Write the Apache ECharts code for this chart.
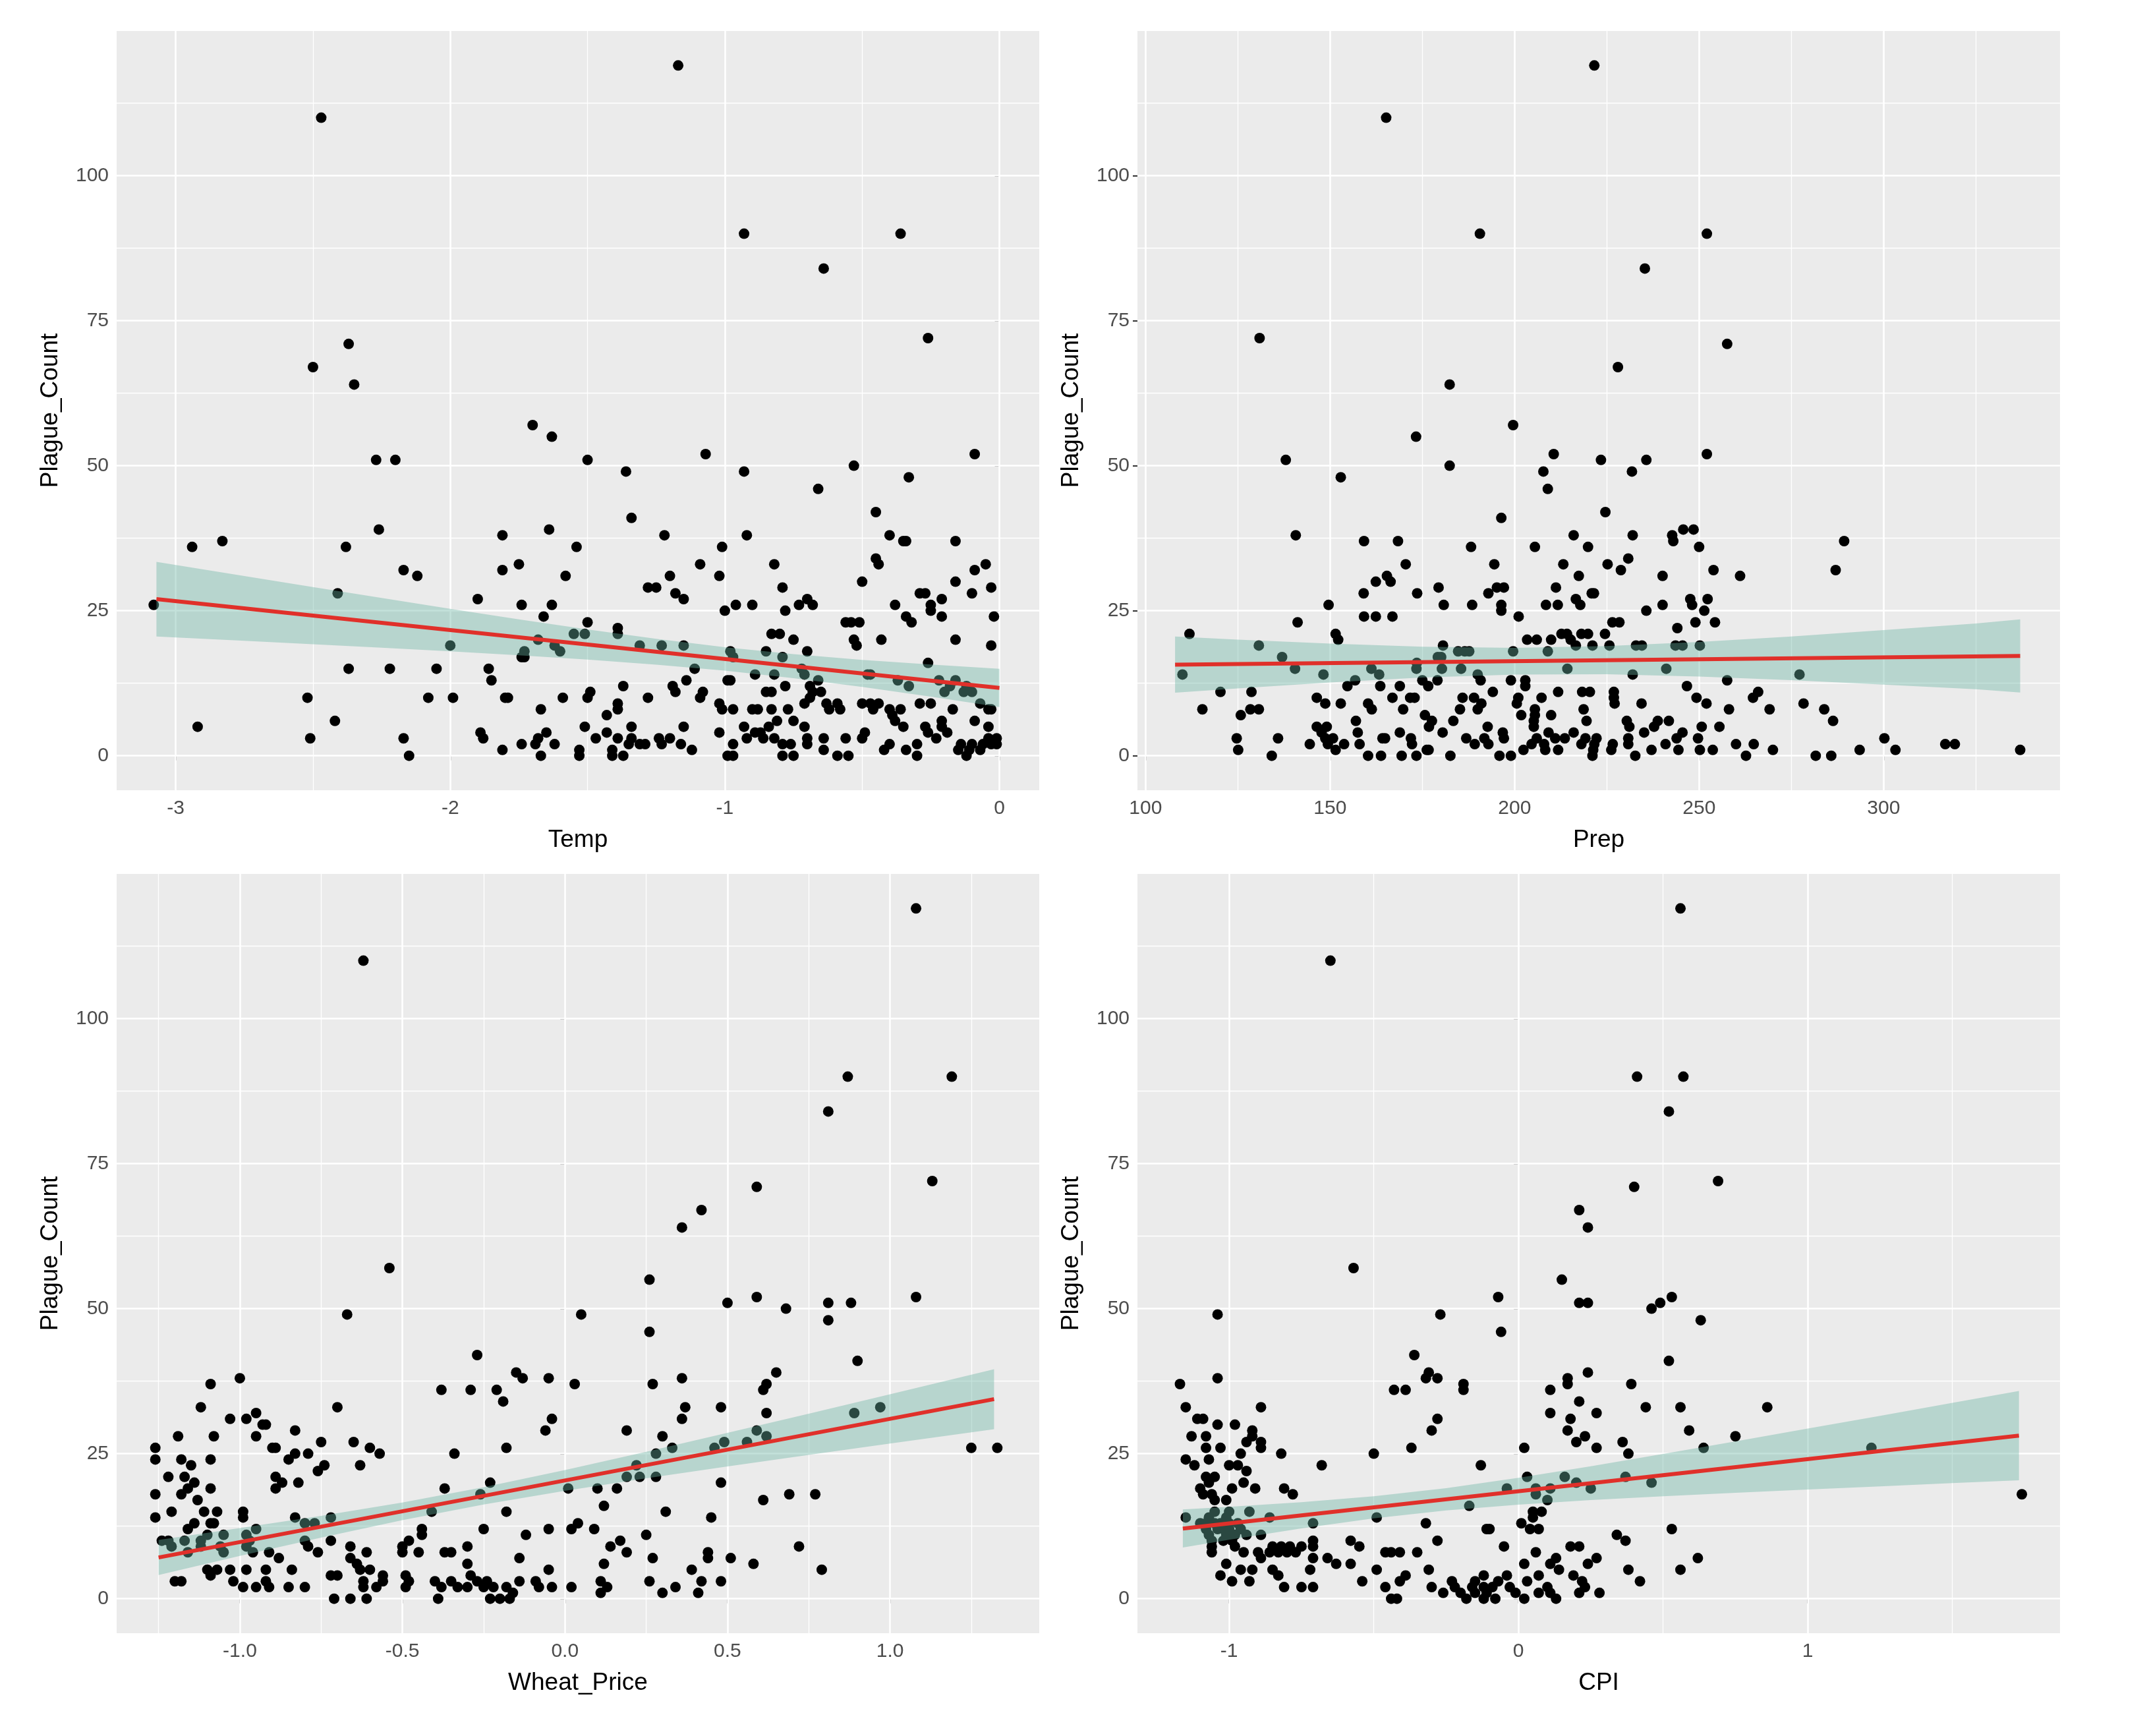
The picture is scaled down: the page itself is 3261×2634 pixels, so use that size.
<!DOCTYPE html>
<html lang="en">
<head>
    <meta charset="UTF-8">
    <title>Plague_Count scatter panels</title>
    <script src="https://cdn.jsdelivr.net/npm/echarts@6/dist/echarts.min.js"></script>
    <style>
        html, body { margin: 0; padding: 0; background: #ffffff; }
        #main { width: 3261px; height: 2634px; }
    </style>
</head>
<body>
<div id="main"></div>
<script type="text/javascript">
    // ---- data ----
    // Temp vs Plague_Count
    var tempPoints = [[-1.17,119],[-2.47,110],[-0.93,90],[-0.36,90],[-0.64,84],[-0.26,72],[-2.37,71],[-2.50,67],[-2.35,64],[-1.70,57],[-1.63,55],[-1.07,52],[-0.09,52],[-2.27,51],[-2.20,51],[-1.50,51],[-0.53,50],[-1.36,49],[-0.93,49],[-0.33,48],[-0.66,46],[-0.45,42],[-1.34,41],[-2.26,39],[-1.81,38],[-1.64,39],[-1.22,38],[-0.92,38],[-0.40,38],[-0.35,37],[-0.34,37],[-0.16,37],[-2.94,36],[-2.83,37],[-2.38,36],[-1.54,36],[-1.01,36],[-0.45,34],[-0.44,33],[-0.05,33],[-0.09,32],[-0.82,33],[-1.09,33],[-2.17,32],[-2.12,31],[-1.81,32],[-1.75,33],[-1.58,31],[-1.20,31],[-1.02,31],[-0.50,30],[-0.79,29],[-1.28,29],[-1.25,29],[-0.03,29],[-0.29,28],[-0.27,28],[-0.21,27],[-0.10,28],[-0.16,30],[-1.18,28],[-1.15,27],[-0.70,27],[-0.68,26],[-0.73,26],[-0.90,26],[-0.96,26],[-1.00,25],[-0.78,25],[-0.38,26],[-0.25,26],[-0.25,25],[-0.21,24],[-0.34,24],[-0.32,23],[-0.02,24],[-3.08,26],[-2.41,28],[-1.90,27],[-1.74,26],[-1.63,26],[-1.66,24],[-1.50,23],[-1.39,22],[-1.39,21],[-1.55,21],[-1.51,21],[-1.68,20],[-1.62,19],[-1.60,18],[-1.73,18],[-1.74,17],[-1.73,17],[-2.00,19],[-1.31,19],[-1.23,19],[-1.15,19],[-0.83,21],[-0.80,21],[-0.75,20],[-0.85,18],[-0.70,18],[-0.79,17],[-0.98,18],[-0.97,17],[-0.51,23],[-0.56,23],[-0.54,23],[-0.53,20],[-0.52,19],[-0.43,20],[-0.16,20],[-0.03,19],[-0.26,16],[-0.48,14],[-0.47,14],[-0.72,15],[-0.71,14],[-0.66,13],[-0.89,14],[-1.11,15],[-0.37,13],[-0.33,12],[-0.22,13],[-0.16,13],[-0.18,12],[-0.12,12],[-0.20,11],[-0.69,12],[-0.68,11],[-0.65,11],[-0.10,11],[-0.13,11],[-0.07,9],[-0.04,8],[-0.03,8],[-2.37,15],[-2.22,15],[-2.05,15],[-1.86,15],[-1.85,13],[-1.14,13],[-1.19,12],[-1.18,11],[-2.52,10],[-2.08,10],[-1.99,10],[-1.80,10],[-1.79,10],[-1.59,10],[-1.37,12],[-1.49,11],[-1.50,10],[-1.28,10],[-1.08,11],[-1.09,10],[-0.99,13],[-0.98,13],[-0.82,14],[-0.78,12],[-0.83,11],[-0.85,11],[-0.69,10],[-0.59,9],[-0.63,9],[-0.58,8],[-0.50,9],[-0.47,9],[-0.46,8],[-0.44,9],[-0.40,8],[-0.36,8],[-0.29,9],[-0.25,9],[-0.17,8],[-1.02,9],[-0.97,8],[-1.01,8],[-0.90,8],[-0.88,8],[-0.83,8],[-0.77,8],[-0.71,9],[-0.62,8],[-0.39,7],[-0.38,6],[-0.35,5],[-0.21,6],[-0.09,6],[-0.04,5],[-0.27,5],[-1.67,8],[-1.43,7],[-1.39,9],[-1.39,8],[-2.92,5],[-2.42,6],[-2.51,3],[-2.17,3],[-2.15,0],[-1.89,4],[-1.88,3],[-1.81,1],[-1.74,2],[-1.69,2],[-1.68,3],[-1.65,4],[-1.67,0],[-1.62,2],[-1.53,1],[-1.53,0],[-1.51,5],[-1.47,3],[-1.43,4],[-1.41,0],[-1.41,1],[-1.39,3],[-1.37,0],[-1.34,5],[-1.34,3],[-1.35,2],[-1.31,2],[-1.29,2],[-1.24,3],[-1.23,2],[-1.20,3],[-1.15,5],[-1.16,2],[-1.12,1],[-1.02,4],[-0.99,0],[-0.97,0],[-0.97,2],[-0.93,5],[-0.92,3],[-0.89,4],[-0.87,4],[-0.86,3],[-0.84,5],[-0.81,6],[-0.82,3],[-0.79,2],[-0.79,0],[-0.76,2],[-0.75,0],[-0.75,6],[-0.71,5],[-0.70,3],[-0.70,2],[-0.64,3],[-0.64,1],[-0.59,0],[-0.55,0],[-0.56,3],[-0.49,4],[-0.50,3],[-0.42,1],[-0.40,2],[-0.34,1],[-0.30,0],[-0.30,2],[-0.26,4],[-0.21,5],[-0.23,3],[-0.19,4],[-0.15,1],[-0.14,2],[-0.12,0],[-0.11,1],[-0.10,2],[-0.07,1],[-0.06,2],[-0.04,3],[-0.01,3],[-0.01,2],[-0.03,2]];
    var tempFitX = [-3.07, 0];
    var tempFitY = [27.0, 11.7];
    var tempBandX = [-3.07, -2.75, -2.5, -2.25, -2, -1.75, -1.5, -1.25, -1, -0.75, -0.5, -0.25, 0];
    var tempBandLo = [20.55, 19.82, 19.22, 18.62, 17.99, 17.32, 16.57, 15.71, 14.66, 13.37, 11.85, 10.18, 8.40];
    var tempBandHi = [33.43, 30.98, 29.08, 27.20, 25.33, 23.52, 21.77, 20.15, 18.70, 17.51, 16.53, 15.72, 15.00];

    // Prep vs Plague_Count
    var prepPoints = [[221.6,119],[165.2,110],[190.6,90],[252.1,90],[235.3,84],[130.9,72],[257.6,71],[228,67],[182.4,64],[199.6,57],[173.3,55],[210.6,52],[252.1,52],[138,51],[223.4,51],[235.7,51],[182.4,50],[207.8,49],[231.8,49],[152.9,48],[209,46],[224.6,42],[196.4,41],[140.7,38],[216,38],[232,38],[242.7,38],[243,37],[159.2,37],[168.4,37],[289.3,37],[188.2,36],[205.5,36],[219.9,36],[245.7,39],[248.5,39],[250,36],[230.8,34],[170.5,33],[194.5,33],[213.2,33],[225.2,33],[253.9,32],[287,32],[228.8,32],[165.4,31],[166.4,30],[162.4,30],[240.1,31],[261.1,31],[217.4,31],[179.4,29],[195.2,29],[197.1,29],[211.2,29],[159.1,28],[173.6,28],[192.9,28],[220.9,28],[221.5,28],[247.6,27],[252.3,27],[216.6,27],[149.6,26],[180.8,26],[188.5,26],[196.4,26],[208.5,26],[211.7,26],[217.8,26],[240.1,26],[248.1,26],[235.7,25],[251.4,25],[159.2,24],[162.4,24],[166.9,24],[196.4,25],[201.1,24],[141.2,23],[226.5,23],[228.4,23],[249,23],[254.3,23],[244.1,22],[224.5,21],[111.9,21],[151.5,21],[152.2,20],[212.7,21],[214.2,21],[218.1,21],[219.9,21],[203.4,20],[206,20],[209.9,20],[215.2,20],[130.7,19],[180.6,19],[216.6,19],[221.1,19],[225.7,19],[232.9,19],[234.5,19],[243.6,19],[245.5,19],[250.2,19],[199.6,18],[209,18],[184.7,18],[186.5,18],[187.7,18],[137,17],[179.2,17],[180.1,17],[140.5,15],[173.4,15],[180.3,15],[185.5,15],[214.3,15],[241.1,15],[161.2,15],[173.5,16],[110,14],[148.2,14],[163.3,14],[190,14],[232,14],[277.2,14],[156.8,13],[175,13],[179.1,13],[190.8,13],[199,13],[202.9,13],[257.6,13],[154.7,12],[163.6,12],[168.9,12],[176.6,12],[202.9,12],[246.7,12],[120.3,11],[128.7,11],[194.1,11],[211.8,11],[218.3,11],[220.4,11],[226.9,11],[266,11],[166.9,10],[171.7,10],[172.9,10],[185.9,10],[189,10],[201,10],[207.3,10],[226.9,10],[249.3,10],[264.6,10],[146.4,10],[160.3,9],[148.7,9],[152.9,9],[191,9],[200.6,9],[227.1,9],[234.4,9],[252,9],[278.3,9],[115.4,8],[128.4,8],[130.7,8],[161.3,8],[169.8,8],[185.2,8],[190,8],[205.5,8],[218.7,8],[258.1,8],[269.1,8],[283.9,8],[125.8,7],[175.7,7],[201.8,7],[205.5,7],[209.9,7],[286.3,6],[157,6],[177.6,6],[183.4,6],[205.2,6],[219.5,6],[230.4,6],[238.8,6],[241.8,6],[146.4,5],[149.1,5],[176.8,5],[192.7,5],[205.2,5],[231.1,5],[237.8,5],[250.7,5],[255.5,5],[147.7,4],[157.5,4],[168.9,4],[180.5,4],[196.8,4],[209.2,4],[216,4],[235.1,4],[245.5,4],[124.7,3],[135.9,3],[148.7,3],[150.8,3],[164.2,3],[164.9,3],[171.9,3],[186.9,3],[191.8,3],[197.1,3],[206,3],[211,3],[213.6,3],[219.2,3],[222.2,3],[230.8,3],[243.9,3],[249.7,3],[300.2,3],[144.5,2],[149.4,2],[153.8,2],[158,2],[172.2,2],[189.2,2],[192.9,2],[204.6,2],[208,2],[218.1,2],[221.6,2],[226.6,2],[230.8,2],[240.9,2],[260,2],[264.8,2],[316.7,2],[319.3,2],[125.1,1],[151.5,1],[176.2,1],[176.7,1],[202.4,1],[208.3,1],[211.8,1],[221.3,1],[226.2,1],[237.1,1],[244.4,1],[250.2,1],[253.7,1],[270,1],[293.5,1],[303.2,1],[337,1],[134.2,0],[160.3,0],[163.8,0],[169.4,0],[173.4,0],[182.6,0],[195.9,0],[199,0],[221.1,0],[232.7,0],[262.7,0],[281.6,0],[285.8,0]];
    var prepFitX = [108, 337];
    var prepFitY = [15.7, 17.2];
    var prepBandX = [108, 125, 150, 175, 200, 225, 250, 275, 300, 325, 337];
    var prepBandLo = [10.86, 11.61, 12.64, 13.49, 14.00, 14.04, 13.65, 13.02, 12.27, 11.45, 10.90];
    var prepBandHi = [20.54, 20.01, 19.32, 18.79, 18.60, 18.90, 19.61, 20.56, 21.65, 22.79, 23.50];

    // Wheat_Price vs Plague_Count
    var wheatPoints = [[1.08,119],[-0.62,110],[0.87,90],[1.19,90],[0.81,84],[1.13,72],[0.59,71],[0.42,67],[0.36,64],[-0.54,57],[0.26,55],[0.59,52],[1.08,52],[0.50,51],[0.81,51],[0.88,51],[0.68,50],[-0.67,49],[0.05,49],[0.81,48],[0.26,46],[-0.27,42],[0.90,41],[-1.00,38],[-0.15,39],[-0.13,38],[-0.05,38],[0.36,38],[0.65,39],[-1.09,37],[-0.38,36],[-0.29,36],[-0.21,36],[0.03,37],[0.27,37],[0.61,36],[0.62,37],[-0.19,34],[-1.12,33],[-0.70,33],[0.37,33],[0.48,33],[0.97,33],[-0.95,32],[0.89,32],[0.62,32],[-1.03,31],[-0.98,31],[-0.04,31],[0.36,31],[-0.93,30],[-0.92,30],[-1.19,28],[-1.08,28],[-0.95,28],[-0.83,29],[-0.06,29],[0.19,29],[0.59,29],[0.62,28],[0.30,28],[-0.65,27],[-0.75,27],[0.33,26],[0.49,27],[0.56,27],[-1.26,26],[-0.90,26],[-0.89,26],[-0.60,26],[-0.18,26],[0.46,26],[1.25,26],[1.33,26],[-0.83,25],[-0.79,25],[-0.57,25],[-0.34,25],[0.28,25],[-1.26,24],[-1.18,24],[-1.09,24],[-0.85,24],[-1.15,23],[-0.74,23],[-0.63,23],[0.22,23],[-0.76,22],[-1.22,21],[-1.17,21],[-0.89,21],[0.19,21],[0.23,21],[0.28,21],[-0.23,20],[0.48,20],[-1.14,20],[-0.87,20],[-0.82,20],[-1.16,19],[-1.09,19],[-0.89,19],[-0.37,19],[0.01,19],[0.10,19],[0.16,19],[-1.18,18],[-0.26,18],[0.69,18],[0.77,18],[-1.26,18],[-1.13,17],[0.61,17],[0.12,16],[-0.41,15],[-0.18,15],[0.31,15],[-1.21,15],[-1.11,15],[-1.07,15],[-0.99,15],[-1.26,14],[-0.99,14],[-0.83,14],[-0.72,14],[0.45,14],[-1.14,13],[-1.09,13],[-1.08,13],[-0.80,13],[-0.77,13],[-0.95,12],[-0.44,12],[-0.25,12],[-0.05,12],[0.02,12],[0.04,13],[0.09,12],[-1.16,12],[-0.44,11],[-0.12,11],[0.25,11],[-1.24,10],[-1.17,10],[-1.05,11],[-0.98,11],[-0.97,10],[-0.80,10],[-0.72,10],[-0.48,10],[0.17,10],[-1.22,10],[-1.12,10],[-1.10,11],[0.14,9],[0.72,9],[-1.21,9],[-1.12,9],[-1.06,9],[-0.98,9],[-0.79,9],[-0.66,9],[-0.50,9],[-0.30,9],[0.19,8],[0.44,8],[-1.16,8],[-1.05,8],[-0.96,8],[-0.91,8],[-0.76,8],[-0.61,8],[-0.50,8],[-0.45,8],[-0.37,8],[-0.35,8],[-0.14,7],[0.27,7],[0.44,7],[0.51,7],[-0.88,7],[-0.66,7],[-0.64,6],[-0.30,6],[0.12,6],[0.58,6],[-1.10,5],[-1.07,5],[-1.03,5],[-0.98,5],[-0.92,5],[-0.84,5],[-0.63,5],[-0.60,5],[-0.49,4],[-0.05,5],[0.39,5],[0.79,5],[-1.20,3],[-1.18,3],[-1.09,4],[-1.02,3],[-0.92,3],[-0.72,4],[-0.56,4],[-0.56,3],[-0.70,4],[-0.62,3],[-0.58,2],[-0.48,3],[-0.40,3],[-0.35,3],[-0.29,4],[-0.27,3],[-0.24,3],[-0.14,3],[-0.09,3],[0.11,3],[0.26,3],[0.42,3],[0.48,3],[-0.99,2],[-0.95,2],[-0.91,2],[-0.85,2],[-0.80,2],[-0.62,2],[-0.49,2],[-0.38,2],[-0.33,2],[-0.30,2],[-0.25,2],[-0.22,2],[-0.18,2],[-0.08,2],[-0.04,2],[0.02,2],[0.13,2],[0.34,2],[0.11,1],[0.30,1],[0.41,1],[-0.71,0],[-0.66,0],[-0.61,0],[-0.39,0],[-0.23,0],[-0.20,0],[-0.17,0],[-0.16,1]];
    var wheatFitX = [-1.25, 1.32];
    var wheatFitY = [7.1, 34.4];
    var wheatBandX = [-1.25, -1, -0.75, -0.5, -0.25, 0, 0.25, 0.5, 0.75, 1.0, 1.32];
    var wheatBandLo = [4.08, 7.36, 10.54, 13.55, 16.25, 18.60, 20.74, 22.79, 24.79, 26.76, 29.22];
    var wheatBandHi = [10.12, 12.16, 14.28, 16.59, 19.21, 22.16, 25.32, 28.59, 31.89, 35.24, 39.56];

    // CPI vs Plague_Count
    var cpiPoints = [[0.56,119],[-0.65,110],[0.41,90],[0.57,90],[0.52,84],[0.69,72],[0.40,71],[0.21,67],[0.24,64],[-0.57,57],[0.15,55],[-0.07,52],[0.53,52],[0.21,51],[0.24,51],[0.49,51],[0.46,50],[-1.04,49],[-0.27,49],[0.63,48],[-0.06,46],[-0.36,42],[0.52,41],[-0.31,39],[0.24,39],[-1.04,38],[-0.32,38],[-0.28,38],[0.17,38],[-1.17,37],[-0.19,37],[0.17,37],[0.39,37],[-0.43,36],[-0.39,36],[-0.19,36],[0.11,36],[-1.15,33],[-0.89,33],[0.44,33],[0.56,33],[0.86,33],[0.21,34],[-1.09,31],[-1.11,31],[0.11,32],[0.27,32],[-0.28,31],[0.18,31],[-1.04,30],[-0.98,30],[-0.30,29],[-0.92,29],[0.17,29],[0.59,29],[-1.13,28],[-1.08,28],[-0.92,28],[0.23,28],[0.75,28],[-0.94,27],[-0.89,27],[0.20,27],[0.36,27],[-1.08,26],[-1.03,26],[-0.89,26],[-0.37,26],[0.02,26],[0.27,26],[0.64,26],[1.22,26],[-1.15,24],[-1.07,24],[-0.96,25],[-0.82,25],[-0.50,25],[0.38,25],[-1.12,23],[-1.00,23],[-0.97,23],[-0.68,23],[-0.13,23],[-1.08,21],[-1.05,21],[-0.94,22],[0.37,21],[0.03,21],[0.16,21],[-1.07,20],[-0.95,20],[0.20,20],[0.46,20],[-1.10,19],[-0.99,19],[-0.91,19],[-0.81,19],[-0.04,19],[0.11,19],[0.06,19],[0.25,19],[-1.09,18],[-1.06,18],[-0.78,18],[0.06,18],[1.74,18],[-1.05,17],[-1.01,17],[0.10,17],[-0.17,16],[-1.05,15],[-1.00,15],[-0.93,15],[0.05,15],[0.08,15],[-1.15,14],[-1.07,14],[-1.01,14],[-0.86,14],[-0.49,14],[0.05,14],[-1.10,13],[-1.05,13],[-1.00,13],[-0.71,13],[-0.32,13],[0.01,13],[-1.08,12],[-1.02,12],[-0.96,12],[-0.11,12],[-0.10,12],[0.04,12],[0.07,12],[0.53,12],[-1.07,11],[-1.01,11],[-0.94,11],[-0.89,11],[0.34,11],[-0.71,10],[-0.58,10],[-0.28,10],[0.37,10],[-1.06,9],[-0.98,9],[-0.85,9],[-0.82,9],[-0.79,9],[-0.71,9],[-0.55,9],[-0.05,9],[0.18,9],[0.21,9],[-1.06,8],[-0.95,8],[-0.90,8],[-0.77,8],[-0.46,8],[-0.44,8],[-0.41,8],[-0.35,8],[0.06,8],[-0.89,7],[-0.71,7],[-0.66,7],[0.13,7],[0.27,7],[0.62,7],[-1.01,6],[-0.63,6],[-0.58,6],[0.02,6],[0.11,6],[0.24,6],[-0.96,5],[-0.92,5],[-0.85,5],[-0.72,5],[-0.49,5],[-0.31,5],[0.14,5],[0.38,5],[0.56,5],[-1.03,4],[-0.83,4],[-0.39,4],[-0.12,4],[-0.04,4],[0.07,4],[0.19,4],[-0.99,3],[-0.93,3],[-0.54,3],[-0.41,3],[-0.23,3],[-0.15,3],[-0.07,3],[0.03,3],[0.22,3],[0.42,3],[-0.81,2],[-0.75,2],[-0.71,2],[-0.46,2],[-0.30,2],[-0.22,2],[-0.16,2],[-0.12,2],[-0.09,2],[-0.03,2],[0.10,2],[0.23,2],[-0.26,1],[-0.20,1],[-0.15,1],[-0.11,1],[-0.01,1],[0.07,1],[0.11,1],[0.21,1],[0.28,1],[-0.44,0],[-0.42,0],[-0.18,0],[-0.12,0],[-0.08,0],[0.02,0],[0.13,0],[-1.08,13],[-1.04,12],[-1.03,13],[-1.00,12],[-0.98,11],[-0.97,13],[-1.06,10],[-1.02,10],[-0.99,10],[-0.86,8],[-0.83,8],[-0.80,8],[-0.75,9]];
    var cpiFitX = [-1.16, 1.73];
    var cpiFitY = [12.1, 28.1];
    var cpiBandX = [-1.16, -1, -0.75, -0.5, -0.25, 0, 0.25, 0.5, 0.75, 1.0, 1.25, 1.5, 1.73];
    var cpiBandLo = [8.81, 10.15, 12.12, 13.86, 15.22, 16.22, 16.99, 17.65, 18.25, 18.82, 19.37, 19.92, 20.40];
    var cpiBandHi = [15.39, 15.83, 16.62, 17.66, 19.06, 20.84, 22.83, 24.95, 27.11, 29.32, 31.53, 33.76, 35.82];

    // axis ticks
    var yTicks = [0, 25, 50, 75, 100];
    var yMinor = [12.5, 37.5, 62.5, 87.5, 112.5];
    var tempTicks = [-3, -2, -1, 0];
    var tempMinor = [-2.5, -1.5, -0.5];
    var prepTicks = [100, 150, 200, 250, 300];
    var prepMinor = [125, 175, 225, 275, 325];
    var wheatTicks = [-1.0, -0.5, 0.0, 0.5, 1.0];
    var wheatMinor = [-1.25, -0.75, -0.25, 0.25, 0.75, 1.25];
    var cpiTicks = [-1, 0, 1];
    var cpiMinor = [-0.5, 0.5, 1.5];

    var FONT = '"Liberation Sans", Arial, Helvetica, sans-serif';
    var Y_MIN = -5.95, Y_MAX = 124.95;

    var panels = [
        {name: 'Temp', points: tempPoints, fitX: tempFitX, fitY: tempFitY, bandX: tempBandX, lo: tempBandLo, hi: tempBandHi,
            ticks: tempTicks, minor: tempMinor, min: -3.215, max: 0.145, left: 177, top: 47, fmt: null},
        {name: 'Prep', points: prepPoints, fitX: prepFitX, fitY: prepFitY, bandX: prepBandX, lo: prepBandLo, hi: prepBandHi,
            ticks: prepTicks, minor: prepMinor, min: 97.8, max: 347.8, left: 1726, top: 47, fmt: null},
        {name: 'Wheat_Price', points: wheatPoints, fitX: wheatFitX, fitY: wheatFitY, bandX: wheatBandX, lo: wheatBandLo, hi: wheatBandHi,
            ticks: wheatTicks, minor: wheatMinor, min: -1.379, max: 1.459, left: 177, top: 1326, fmt: 1},
        {name: 'CPI', points: cpiPoints, fitX: cpiFitX, fitY: cpiFitY, bandX: cpiBandX, lo: cpiBandLo, hi: cpiBandHi,
            ticks: cpiTicks, minor: cpiMinor, min: -1.317, max: 1.872, left: 1726, top: 1326, fmt: null}
    ];

    var grids = [], xAxes = [], yAxes = [], series = [];

    panels.forEach(function (p, i) {
        grids.push({
            left: p.left, top: p.top, width: 1400, height: 1152,
            show: true, backgroundColor: '#EBEBEB', borderWidth: 0
        });
        var digits = p.fmt;
        xAxes.push({
            type: 'value', gridIndex: i, min: p.min, max: p.max,
            name: p.name, nameLocation: 'middle', nameGap: 57,
            nameTextStyle: {fontSize: 37, color: '#000', fontFamily: FONT},
            axisLine: {show: false},
            axisTick: {show: true, customValues: p.ticks, length: 7, lineStyle: {color: '#333', width: 2}},
            axisLabel: {
                customValues: p.ticks, fontSize: 30, color: '#4D4D4D', margin: 13, fontFamily: FONT,
                formatter: function (v) { return digits ? Number(v).toFixed(digits) : String(v); }
            },
            splitLine: {show: false}
        });
        yAxes.push({
            type: 'value', gridIndex: i, min: Y_MIN, max: Y_MAX,
            name: 'Plague_Count', nameLocation: 'middle', nameGap: 82, nameRotate: 90,
            nameTextStyle: {fontSize: 37, color: '#000', fontFamily: FONT},
            axisLine: {show: false},
            axisTick: {show: true, customValues: yTicks, length: 7, lineStyle: {color: '#333', width: 2}},
            axisLabel: {customValues: yTicks, fontSize: 30, color: '#4D4D4D', margin: 12, fontFamily: FONT},
            splitLine: {show: false}
        });

        // panel grid lines (minor thin, major thicker)
        var lines = [];
        p.minor.forEach(function (v) { lines.push({xAxis: v, lineStyle: {width: 1.3}}); });
        yMinor.forEach(function (v) { lines.push({yAxis: v, lineStyle: {width: 1.3}}); });
        p.ticks.forEach(function (v) { lines.push({xAxis: v, lineStyle: {width: 2.6}}); });
        yTicks.forEach(function (v) { lines.push({yAxis: v, lineStyle: {width: 2.6}}); });
        series.push({
            type: 'line', xAxisIndex: i, yAxisIndex: i, data: [], silent: true, z: 1,
            markLine: {
                silent: true, symbol: ['none', 'none'], z: 1, animation: false,
                label: {show: false},
                lineStyle: {color: '#FFFFFF', type: 'solid', opacity: 1},
                emphasis: {disabled: true},
                data: lines
            }
        });

        // points
        series.push({
            type: 'scatter', xAxisIndex: i, yAxisIndex: i, z: 2, silent: true,
            symbolSize: 16, itemStyle: {color: '#000000', opacity: 1},
            data: p.points
        });

        // confidence band, drawn over the points like geom_smooth
        var bx = p.bandX, blo = p.lo, bhi = p.hi;
        series.push({
            type: 'custom', xAxisIndex: i, yAxisIndex: i, z: 3, silent: true,
            data: [[bx[0], blo[0]]],
            renderItem: function (params, api) {
                var pts = [];
                for (var k = 0; k < bx.length; k++) pts.push(api.coord([bx[k], bhi[k]]));
                for (var j = bx.length - 1; j >= 0; j--) pts.push(api.coord([bx[j], blo[j]]));
                return {type: 'polygon', shape: {points: pts}, style: {fill: 'rgba(105,179,162,0.4)', stroke: null}};
            }
        });

        // fitted line
        series.push({
            type: 'line', xAxisIndex: i, yAxisIndex: i, z: 4, silent: true,
            symbol: 'none', lineStyle: {color: '#E0302A', width: 6},
            data: p.fitX.map(function (x, k) { return [x, p.fitY[k]]; })
        });
    });

    var option = {
        animation: false,
        backgroundColor: '#FFFFFF',
        textStyle: {fontFamily: FONT},
        grid: grids,
        xAxis: xAxes,
        yAxis: yAxes,
        series: series
    };

    var myChart = echarts.init(document.getElementById('main'));
    myChart.setOption(option);
</script>
</body>
</html>
